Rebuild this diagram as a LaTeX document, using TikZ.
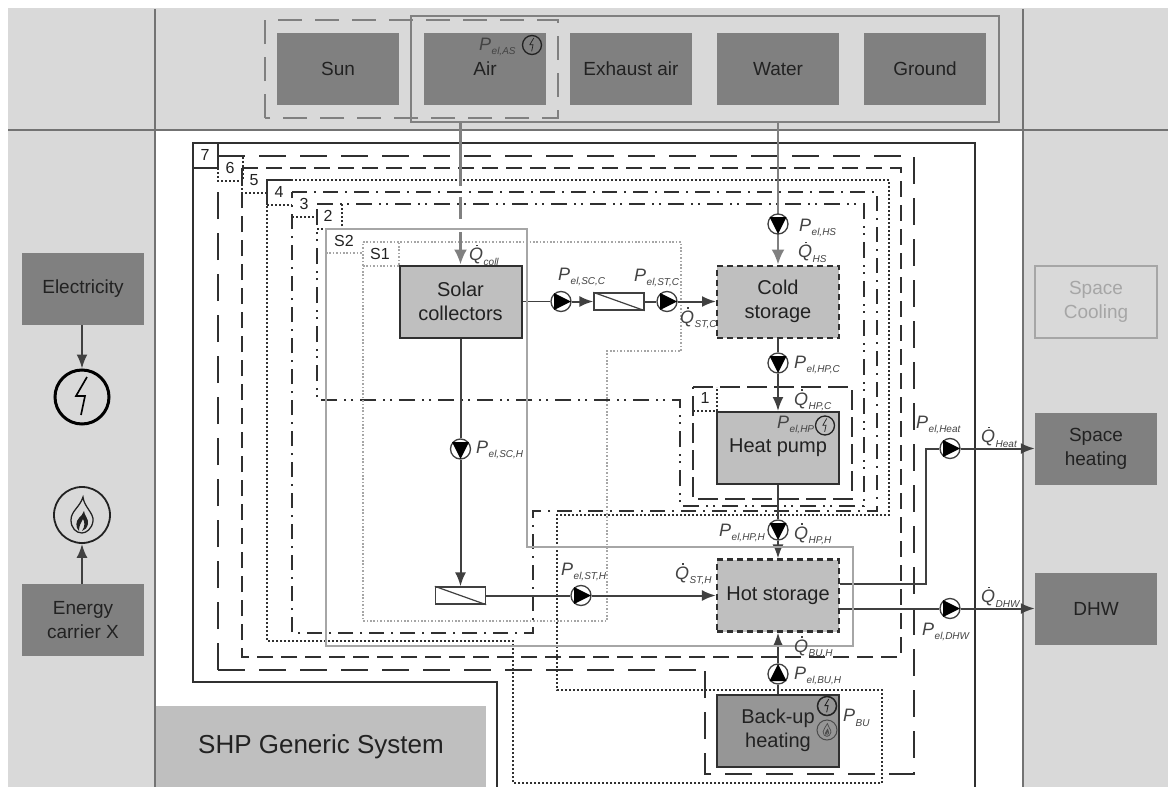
\documentclass[tikz,border=0pt]{standalone}
\usepackage{fontspec}
\setmainfont{Liberation Sans}
\usetikzlibrary{arrows.meta}
\pgfdeclarelayer{backlayer}
\pgfdeclarelayer{flowlayer}
\pgfsetlayers{backlayer,flowlayer,main}
\definecolor{panel}{HTML}{D9D9D9}
\definecolor{outer}{HTML}{808080}
\definecolor{comp}{HTML}{BFBFBF}
\definecolor{backup}{HTML}{969696}
\definecolor{ink}{HTML}{222222}
\definecolor{flowc}{HTML}{404040}
\definecolor{bline}{HTML}{303030}
\definecolor{sysg}{HTML}{A6A6A6}
\tikzset{
  x=1pt,y=-1pt,
  source/.style={fill=outer,minimum width=122,minimum height=72,inner sep=0,align=center,text=ink,font=\fontsize{19}{24}\selectfont},
  compbox/.style={draw=bline,line width=2,fill=comp,minimum width=122,minimum height=72,inner sep=0,align=center,text=ink,font=\fontsize{20}{24}\selectfont},
  compdash/.style={compbox,dash pattern=on 6 off 4},
  pumpc/.style={circle,draw=flowc,line width=1.3,fill=white,minimum size=20,inner sep=0},
  hxbox/.style={rectangle,draw=flowc,line width=1.3,fill=white,minimum width=50,minimum height=17,inner sep=0},
  flow/.style={draw=flowc,line width=2,-{Latex[length=14,width=11]}},
  flowplain/.style={draw=flowc,line width=2},
  gflow/.style={draw=outer,line width=2.4,-{Latex[length=15,width=13]}},
  lab/.style={anchor=west,inner sep=0,text=ink!85,font=\fontsize{18}{18}\selectfont},
  num/.style={inner sep=0,text=ink,font=\fontsize{16}{16}\selectfont},
  sys7/.style={draw=bline,line width=1.8},
  sys6/.style={draw=bline,line width=1.7,dash pattern=on 27 off 14},
  sys5/.style={draw=bline,line width=1.7,dash pattern=on 16 off 8},
  sys4/.style={draw=bline,line width=1.7,dash pattern=on 2 off 2},
  sys3/.style={draw=bline,line width=1.6,dash pattern=on 15 off 7 on 2 off 7},
  sys2/.style={draw=bline,line width=1.6,dash pattern=on 16 off 7 on 2 off 5 on 2 off 7},
  sys1/.style={draw=bline,line width=1.7,dash pattern=on 20 off 7},
  dotl/.style={draw=bline,line width=1.5,dash pattern=on 2 off 2},
  sysS2/.style={draw=sysg,line width=1.6},
  sysS1/.style={draw=sysg,line width=1.3,dash pattern=on 1.6 off 1.8},
}
\newcommand\Psym[1]{\textit{P\kern.5pt\raisebox{-4.5pt}{\fontsize{10}{10}\selectfont #1}}}
\newcommand\Qsym[1]{\textit{\leavevmode\rlap{\hspace{7pt}\raisebox{14.5pt}{\rule{1.6pt}{1.6pt}}}Q\kern.5pt\raisebox{-4.5pt}{\fontsize{10}{10}\selectfont #1}}}
% name, x, y, rotation
\newcommand\pump[4]{\node[pumpc] (#1) at (#2,#3) {};
  \fill[black,shift={(#1.center)},rotate=#4] (-7,-8.5) -- (-7,8.5) -- (10,0) -- cycle;}
% name, x, y, radius, line width, colour
\newcommand\elecsym[6]{\node[circle,draw=#6,line width=#5,minimum size=#4*2,inner sep=0] (#1) at (#2,#3) {};
  \begin{scope}[shift={(#1.center)},scale=#4/27]
  \draw[#6,line width=#5*0.55,line join=miter] (5,-20) -- (-6,-1) -- (3,-1) -- (-1,18);
  \end{scope}}
\newcommand\flamesym[6]{\node[circle,draw=#6,line width=#5,minimum size=#4*2,inner sep=0] (#1) at (#2,#3) {};
  \begin{scope}[shift={(#1.center)},scale=#4/28]
  \draw[#6,line width=#5*0.7] (1,-18) .. controls (2,-8) and (12,-2) .. (11,6) .. controls (10,14) and (4,18) .. (0,18) .. controls (-6,18) and (-11,13) .. (-11,5) .. controls (-11,-4) and (-2,-8) .. (1,-18) -- cycle;
  \fill[#6] (2,-4) .. controls (2,0) and (7,4) .. (6,9) .. controls (5,13) and (3,15) .. (0,16) .. controls (3,12) and (3,7) .. (1,4) .. controls (-1,8) and (-3,10) .. (-3,16) .. controls (-7,12) and (-6,6) .. (-3,3) .. controls (-1,1) and (1,-1) .. (2,-4) -- cycle;
  \end{scope}}
\begin{document}
\begin{tikzpicture}
\useasboundingbox (0,0) rectangle (1168,787);
\begin{pgfonlayer}{backlayer}
  % panels
  \fill[white] (0,0) rectangle (1168,787);
  \fill[panel] (8,8) rectangle (1168,787);
  \fill[white] (155,130) rectangle (1023,787);
  \fill[comp] (156,706) rectangle (486,787);
  \draw[draw=outer!90!black,line width=2] (155,9) -- (155,787);
  \draw[draw=outer!90!black,line width=2] (1023,9) -- (1023,787);
  \draw[draw=outer!90!black,line width=2] (8,130) -- (1168,130);
  % system boundaries
  \draw[sys7] (497,787) -- (497,682) -- (193,682) -- (193,143) -- (975,143) -- (975,787);
  \draw[sys7] (218,143) -- (218,168) -- (193,168);
  \draw[sys6] (218,156) -- (914,156) -- (914,774) -- (705,774) -- (705,670);
  \draw[sys6] (218,670) -- (705,670);
  \draw[sys6] (218,670) -- (218,181);
  \draw[dotl] (218,156) -- (218,181) -- (243,181) -- (243,156);
  \draw[sys5] (242,168) -- (901,168) -- (901,657) -- (242,657) -- cycle;
  \draw[dotl] (242,168) -- (242,193) -- (267,193);
  \draw[sys4] (267,180) -- (889,180) -- (889,515) -- (557,515) -- (557,690) -- (882,690) -- (882,783) -- (513,783) -- (513,641) -- (267,641) -- cycle;
  \draw[sys7,line width=1.5] (292,180) -- (267,180) -- (267,205);
  \draw[dotl] (267,205) -- (292,205);
  \draw[sys3] (292,192) -- (877,192) -- (877,511) -- (533,511) -- (533,633) -- (292,633) -- cycle;
  \draw[dotl] (292,217) -- (317,217);
  \draw[sys2] (317,204) -- (864,204) -- (864,506) -- (680,506) -- (680,400) -- (317,400) -- cycle;
  \draw[dotl] (317,229) -- (342,229) -- (342,204);
  \draw[sys1] (693,387) -- (852,387) -- (852,499) -- (693,499) -- cycle;
  \draw[dotl] (693,411) -- (717,411) -- (717,387);
  % inner gray boundaries
  \draw[sysS1] (363,242) -- (681,242) -- (681,351) -- (607,351) -- (607,621) -- (363,621) -- cycle;
  \draw[sysS1] (363,266) -- (399,266) -- (399,242);
  \draw[sysS1] (326,253) -- (362,253);
\end{pgfonlayer}
% top sources
\draw[draw=outer,line width=2.2,dash pattern=on 24 off 13] (265,118) -- (265,20) -- (558,20) -- (558,118) -- cycle;
\draw[draw=outer,line width=2.6] (411,16) rectangle (999,122);
\node[source] (sun) at (338,69) {Sun};
\node[source] (air) at (485,69) {Air};
\node[source] (exh) at (631,69) {Exhaust air};
\node[source] (wat) at (778,69) {Water};
\node[source] (gnd) at (925,69) {Ground};
\coordinate (airout) at (460.5,122);
\coordinate (watout) at (778,122);
% S2 boundary above flow lines, below components
\draw[sysS2] (326,229) -- (527,229) -- (527,547) -- (853,547) -- (853,646) -- (326,646) -- cycle;
% left and right
\node[source] (elec) at (83,289) {Electricity};
\node[source] (carrier) at (83,620) {Energy\\carrier X};
\elecsym{esym}{82}{397}{27}{3}{black}
\flamesym{fsym}{82}{515}{28}{1.8}{ink}
\node[source] (heat) at (1096,448.5) {Space\\heating};
\node[source] (dhw) at (1096,608.5) {DHW};
\node[source,fill=panel,draw=sysg,line width=2,text=sysg] (cool) at (1096,301.5) {Space\\Cooling};
% components
\node[compbox] (solar) at (460.5,301.5) {Solar\\collectors};
\node[compdash] (cold) at (778,301.5) {Cold\\storage};
\node[compbox] (hp) at (778,448) {Heat pump};
\node[compdash,line width=2.3] (hot) at (778,595.5) {Hot storage};
\node[compbox,fill=backup] (bu) at (778,730.5) {Back-up\\heating};
\node[hxbox] (hx1) at (619,301.5) {};
\draw[flowplain,line width=1.2] (hx1.north west) -- (hx1.south east);
\node[hxbox] (hx2) at (460.5,595.5) {};
\draw[flowplain,line width=1.2] (hx2.north west) -- (hx2.south east);
% pumps
\pump{pHS}{778}{224}{-90}
\pump{pSCC}{561}{301.5}{0}
\pump{pSTC}{667}{301.5}{0}
\pump{pHPC}{778}{363}{-90}
\pump{pSCH}{460.5}{449}{-90}
\pump{pSTH}{581}{595.5}{0}
\pump{pHPH}{778}{530}{-90}
\pump{pBUH}{778}{674}{90}
\pump{pHeat}{950}{448.5}{0}
\pump{pDHW}{950}{608.5}{0}
\coordinate (hotA) at (hot.east |- 0,584);
\coordinate (hotB) at (926,584);
% connectors
\begin{pgfonlayer}{flowlayer}
  \draw[gflow,dash pattern=on 64 off 11 on 22 off 13 on 100] (airout) -- (solar.north);
  \draw[gflow] (watout) -- (cold.north);
  \draw[flowplain,line width=1.6] (solar.east) -- (pSCC);
  \draw[flow] (pSCC) -- (hx1.west);
  \draw[flowplain] (hx1.east) -- (pSTC);
  \draw[flow] (pSTC) -- (cold.west);
  \draw[flowplain] (solar.south) -- (pSCH);
  \draw[flow] (pSCH) -- (hx2.north);
  \draw[flowplain] (hx2.east) -- (pSTH);
  \draw[flow] (pSTH) -- (hot.west);
  \draw[flowplain] (cold.south) -- (pHPC);
  \draw[flow] (pHPC) -- (hp.north);
  \draw[flowplain] (hp.south) -- (pHPH);
  \draw[flow] (pHPH) -- (hot.north);
  \draw[flowplain] (bu.north) -- (pBUH);
  \draw[flow] (pBUH) -- (hot.south);
  \draw[flowplain] (hotA) -- (hotB) |- (pHeat);
  \draw[flow] (pHeat) -- (heat.west);
  \draw[flowplain] (hot.east |- pDHW) -- (pDHW);
  \draw[flow] (pDHW) -- (dhw.west);
  \draw[flow] (elec.south -| esym) -- (esym.north);
  \draw[flow] (carrier.north -| fsym) -- (fsym.south);
\end{pgfonlayer}
% corner numbers
\node[num] (n7) at (205,155) {7};
\node[num] (n6) at (230,168) {6};
\node[num] (n5) at (254,180) {5};
\node[num] (n4) at (279,192) {4};
\node[num] (n3) at (304,204) {3};
\node[num] (n2) at (328,216) {2};
\node[num] (n1) at (705,398) {1};
\node[num] (nS2) at (344,241) {S2};
\node[num] (nS1) at (380,254) {S1};
% symbols in components
\node[lab] (lAS) at (479,47) {\Psym{el,AS}};
\elecsym{eAS}{532}{45}{9.5}{1.3}{ink}
\node[lab] (lHP) at (777,425) {\Psym{el,HP}};
\elecsym{eHP}{825}{425.5}{9.5}{1.3}{ink}
\elecsym{eBU}{827}{706}{9.5}{1.5}{ink}
\flamesym{fBU}{827}{730}{10}{1}{backup!50!black}
% labels
\node[lab] (lQcoll) at (469,255) {\Qsym{coll}};
\node[lab] (lSCC) at (558,277) {\Psym{el,SC,C}};
\node[lab] (lSTC) at (634,278) {\Psym{el,ST,C}};
\node[lab] (lPHS) at (799,228) {\Psym{el,HS}};
\node[lab] (lQHS) at (798,252) {\Qsym{HS}};
\node[lab] (lQSTC) at (680,318) {\Qsym{ST,C}};
\node[lab] (lPHPC) at (794,365) {\Psym{el,HP,C}};
\node[lab] (lQHPC) at (794,400) {\Qsym{HP,C}};
\node[lab] (lSCH) at (476,450) {\Psym{el,SC,H}};
\node[lab] (lSTH) at (561,572) {\Psym{el,ST,H}};
\node[lab] (lQSTH) at (675,574) {\Qsym{ST,H}};
\node[lab] (lPHPH) at (719,533) {\Psym{el,HP,H}};
\node[lab] (lQHPH) at (794,534) {\Qsym{HP,H}};
\node[lab] (lQBUH) at (794,647) {\Qsym{BU,H}};
\node[lab] (lPBUH) at (794,676) {\Psym{el,BU,H}};
\node[lab] (lPBU) at (843,718) {\Psym{BU}};
\node[lab] (lPHeat) at (916,425) {\Psym{el,Heat}};
\node[lab] (lQHeat) at (981,437) {\Qsym{Heat}};
\node[lab] (lPDHW) at (922,632) {\Psym{el,DHW}};
\node[lab] (lQDHW) at (981,597) {\Qsym{DHW}};
\node[anchor=west,inner sep=0,text=ink,font=\fontsize{26}{26}\selectfont] (title) at (198,747) {SHP Generic System};
\end{tikzpicture}
\end{document}
